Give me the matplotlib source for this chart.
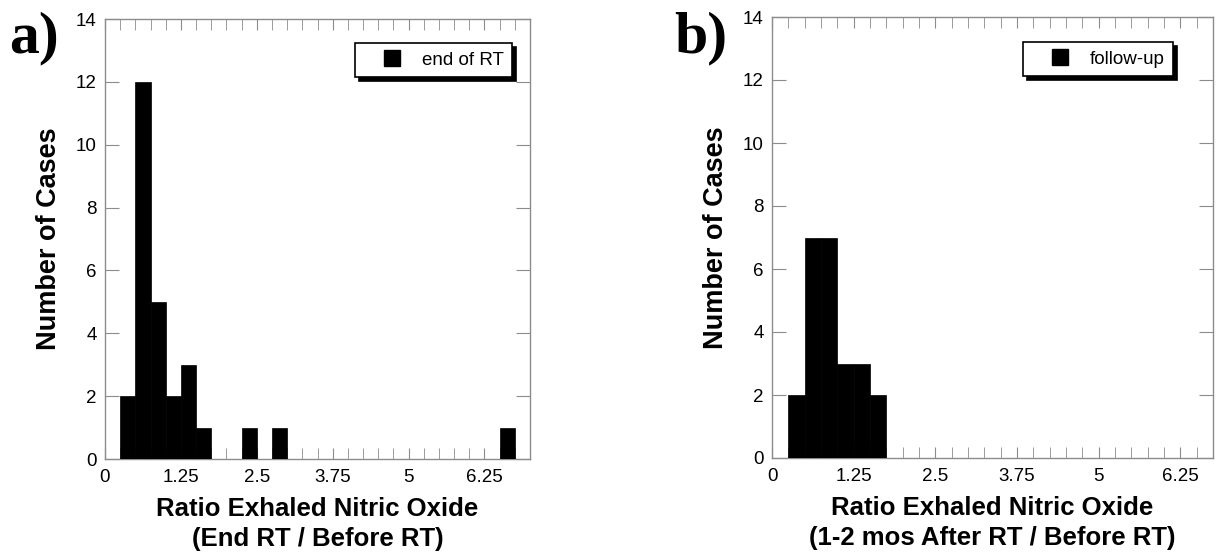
import matplotlib
matplotlib.use('Agg')
import matplotlib.pyplot as plt
import numpy as np
from matplotlib.lines import Line2D
from matplotlib.ticker import MultipleLocator

plt.rcParams['font.family'] = ['Liberation Sans', 'DejaVu Sans']

# histogram data: left bin edges (bin width 0.25) and counts
bin_width = 0.25
edges_a = [0.25, 0.5, 0.75, 1.0, 1.25, 1.5, 2.25, 2.75, 6.5]
counts_a = [2, 12, 5, 2, 3, 1, 1, 1, 1]
edges_b = [0.25, 0.5, 0.75, 1.0, 1.25, 1.5]
counts_b = [2, 7, 7, 3, 3, 2]

legend_a = 'end of RT'
legend_b = 'follow-up'
ylabel = 'Number of Cases'
xlabel_a = 'Ratio Exhaled Nitric Oxide\n(End RT / Before RT)'
xlabel_b = 'Ratio Exhaled Nitric Oxide\n(1-2 mos After RT / Before RT)'
xticks = [0, 1.25, 2.5, 3.75, 5, 6.25]
xtick_labels = ['0', '1.25', '2.5', '3.75', '5', '6.25']

W, H = 1222, 557
fig = plt.figure(figsize=(W / 100, H / 100), dpi=100)

def px_axes(x0, y0, x1, y1):
    return fig.add_axes([x0 / W, 1 - y1 / H, (x1 - x0) / W, (y1 - y0) / H])

ax_a = px_axes(105, 19, 530, 459)
ax_b = px_axes(772, 17, 1213, 458)

gray = '#8c8c8c'

def setup(ax, edges, counts, xmax, label, xlabel, lx, ly):
    ax.bar(edges, counts, width=bin_width, align='edge', color='black',
           edgecolor='black', linewidth=0.5, zorder=3)
    ax.set_xlim(0, xmax)
    ax.set_ylim(0, 14)
    ax.set_xticks(xticks)
    ax.set_xticklabels(xtick_labels)
    ax.xaxis.set_minor_locator(MultipleLocator(0.25))
    ax.set_yticks(range(0, 15, 2))
    for s in ax.spines.values():
        s.set_color(gray)
        s.set_linewidth(1)
    ax.tick_params(axis='x', which='both', direction='in', top=True,
                   length=8, color=gray, labelsize=13.5, pad=7, zorder=1)
    ax.tick_params(axis='y', direction='in', right=True, length=10,
                   color=gray, labelsize=13.5, pad=6)
    ax.set_ylabel(ylabel, fontsize=19.5, fontweight='bold', labelpad=10)
    ax.set_xlabel(xlabel, fontsize=18.5, fontweight='bold', labelpad=8,
                  linespacing=1.32)
    h = Line2D([], [], marker='s', linestyle='none', color='black',
               markersize=11.5)
    leg = ax.legend([h], [label], loc='upper right', bbox_to_anchor=(lx, ly),
                    borderaxespad=0, fancybox=False, handlelength=3.0,
                    handletextpad=0.1, borderpad=0.45, fontsize=13.5,
                    shadow={'ox': 3, 'oy': -3, 'color': 'black', 'alpha': 1})
    leg.get_frame().set_edgecolor('black')
    leg.get_frame().set_linewidth(1.2)

setup(ax_a, edges_a, counts_a, 7, legend_a, xlabel_a,
      (512 - 105) / 425, (459 - 43) / 440)
setup(ax_b, edges_b, counts_b, 6.75, legend_b, xlabel_b,
      (1173 - 772) / 441, (458 - 42) / 441)

fig.text(9 / W, 1 - 11 / H, 'a)', family='Liberation Serif',
         fontweight='bold', fontsize=43, va='top', ha='left')
fig.text(674 / W, 1 - 11 / H, 'b)', family='Liberation Serif',
         fontweight='bold', fontsize=43, va='top', ha='left')

fig.savefig('out.png', dpi=100)
